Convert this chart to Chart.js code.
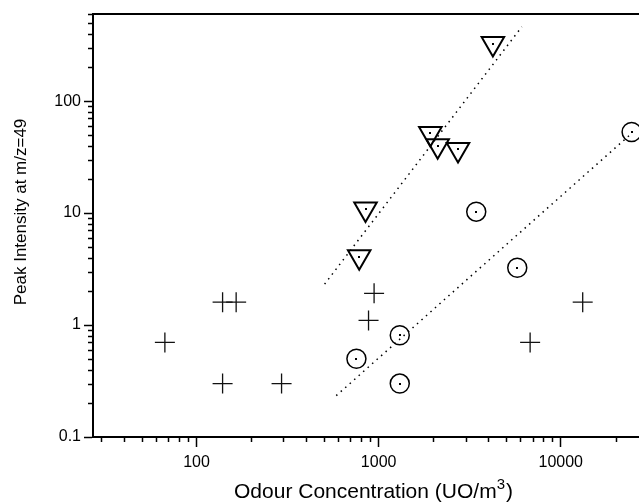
<!doctype html>
<html lang="en">
<head>
  <meta charset="utf-8">
  <title>Peak Intensity vs Odour Concentration</title>
  <style>
    body { margin: 0; background: #fff; }
    #wrap { width: 639px; height: 504px; }
  </style>
  <script src="https://cdn.jsdelivr.net/npm/chart.js"></script>
</head>
<body>
  <div id="wrap"><canvas id="myChart" width="639" height="504"></canvas></div>

  <script>
    // values
    const crossX = [67, 139, 165, 139, 293, 944, 880, 6790, 13200];
    const crossY = [0.70, 1.6, 1.6, 0.30, 0.30, 1.92, 1.1, 0.70, 1.6];

    const circleX = [755, 1306, 1306, 3435, 5770, 24500];
    const circleY = [0.50, 0.81, 0.30, 10.3, 3.25, 53];

    const triX = [782, 847, 1923, 2109, 2728, 4240];
    const triY = [4.07, 10.9, 51.5, 39.9, 37, 327];

    const fitTriX = [505, 6110];
    const fitTriY = [2.32, 461];
    const fitCircX = [585, 24000];
    const fitCircY = [0.234, 50];

    const xMajor = [100, 1000, 10000];
    const yMajor = [0.1, 1, 10, 100];
    const xRange = [27, 26900];
    const yRange = [0.1, 600];

    const FONT = '"Liberation Sans", Arial, sans-serif';

    function pts(xs, ys) {
      return xs.map((x, i) => ({ x: x, y: ys[i] }));
    }

    function minorValues(min, max) {
      const out = [];
      for (let e = Math.floor(Math.log10(min)); e <= Math.ceil(Math.log10(max)); e++) {
        for (let m = 2; m <= 9; m++) {
          const v = m * Math.pow(10, e);
          if (v >= min && v <= max) out.push(v);
        }
      }
      return out;
    }

    // minor ticks, top frame line, centre dots and axis titles
    const decorations = {
      id: 'decorations',
      afterDatasetsDraw(chart) {
        const ctx = chart.ctx;
        ctx.save();
        ctx.fillStyle = '#000';
        chart.data.datasets.forEach((ds, i) => {
          if (!ds.centerDot) return;
          chart.getDatasetMeta(i).data.forEach(el => {
            ctx.fillRect(Math.round(el.x) - 1, Math.round(el.y) - 1, 2, 2);
          });
        });
        ctx.restore();
      },
      afterDraw(chart) {
        const ctx = chart.ctx;
        const area = chart.chartArea;
        const xs = chart.scales.x;
        const ys = chart.scales.y;
        ctx.save();
        ctx.strokeStyle = '#000';
        ctx.lineWidth = 1.5;
        minorValues(xRange[0], xRange[1]).forEach(v => {
          const px = Math.round(xs.getPixelForValue(v)) + 0.5;
          ctx.beginPath();
          ctx.moveTo(px, area.bottom);
          ctx.lineTo(px, area.bottom + 5);
          ctx.stroke();
        });
        minorValues(yRange[0], yRange[1]).forEach(v => {
          const py = Math.round(ys.getPixelForValue(v)) + 0.5;
          ctx.beginPath();
          ctx.moveTo(area.left, py);
          ctx.lineTo(area.left - 5, py);
          ctx.stroke();
        });

        // top frame
        ctx.lineWidth = 2;
        ctx.beginPath();
        ctx.moveTo(area.left - 1, area.top);
        ctx.lineTo(area.right, area.top);
        ctx.stroke();

        // y title
        ctx.fillStyle = '#000';
        ctx.font = '17px ' + FONT;
        ctx.textAlign = 'center';
        ctx.textBaseline = 'middle';
        ctx.translate(21, 212);
        ctx.rotate(-Math.PI / 2);
        ctx.fillText('Peak Intensity at m/z=49', 0, 0);
        ctx.setTransform(1, 0, 0, 1, 0, 0);

        // x title with superscript
        const main = 'Odour Concentration (UO/m';
        ctx.textAlign = 'left';
        ctx.textBaseline = 'alphabetic';
        ctx.font = '21px ' + FONT;
        const w1 = ctx.measureText(main).width;
        const w3 = ctx.measureText(')').width;
        ctx.font = '15px ' + FONT;
        const w2 = ctx.measureText('3').width;
        const start = 373 - (w1 + w2 + w3) / 2;
        ctx.font = '21px ' + FONT;
        ctx.fillText(main, start, 498);
        ctx.font = '15px ' + FONT;
        ctx.fillText('3', start + w1, 489);
        ctx.font = '21px ' + FONT;
        ctx.fillText(')', start + w1 + w2 + 1, 498);
        ctx.restore();
      }
    };

    const ctx = document.getElementById('myChart');

    new Chart(ctx, {
      type: 'scatter',
      data: {
        datasets: [
          {
            label: 'Triangles',
            data: pts(triX, triY),
            pointStyle: 'triangle',
            rotation: 180,
            pointRadius: 13,
            borderColor: '#000',
            backgroundColor: 'rgba(0,0,0,0)',
            borderWidth: 2,
            centerDot: true,
            clip: false
          },
          {
            label: 'Circles',
            data: pts(circleX, circleY),
            pointStyle: 'circle',
            pointRadius: 9.5,
            borderColor: '#000',
            backgroundColor: 'rgba(0,0,0,0)',
            borderWidth: 1.5,
            centerDot: true,
            clip: false
          },
          {
            label: 'Crosses',
            data: pts(crossX, crossY),
            pointStyle: 'cross',
            pointRadius: 10,
            borderColor: '#111',
            borderWidth: 1.3
          },
          {
            label: 'Fit triangles',
            type: 'line',
            data: pts(fitTriX, fitTriY),
            borderColor: '#000',
            borderWidth: 1.5,
            borderDash: [1.5, 4.5],
            pointRadius: 0,
            fill: false
          },
          {
            label: 'Fit circles',
            type: 'line',
            data: pts(fitCircX, fitCircY),
            borderColor: '#000',
            borderWidth: 1.5,
            borderDash: [1.5, 4.5],
            pointRadius: 0,
            fill: false
          }
        ]
      },
      options: {
        responsive: false,
        animation: false,
        layout: { autoPadding: false, padding: { top: 14, left: 0, right: 0, bottom: 0 } },
        plugins: {
          legend: { display: false },
          tooltip: { enabled: false }
        },
        scales: {
          x: {
            type: 'logarithmic',
            min: xRange[0],
            max: xRange[1],
            afterBuildTicks: scale => { scale.ticks = xMajor.map(v => ({ value: v })); },
            afterFit: scale => {
              scale.height = 67;
              scale.paddingLeft = 0;
              scale.paddingRight = 0;
            },
            ticks: {
              color: '#000',
              font: { family: FONT, size: 16 },
              padding: 6,
              maxRotation: 0,
              autoSkip: false,
              callback: value => String(value)
            },
            grid: { drawOnChartArea: false, color: '#000', tickLength: 10, tickWidth: 1.5 },
            border: { color: '#000', width: 2 }
          },
          y: {
            type: 'logarithmic',
            min: yRange[0],
            max: yRange[1],
            afterBuildTicks: scale => { scale.ticks = yMajor.map(v => ({ value: v })); },
            afterFit: scale => {
              scale.width = 93;
              scale.paddingTop = 0;
              scale.paddingBottom = 0;
            },
            ticks: {
              color: '#000',
              font: { family: FONT, size: 16 },
              padding: 3,
              autoSkip: false,
              callback: value => String(value)
            },
            grid: { drawOnChartArea: false, color: '#000', tickLength: 9, tickWidth: 1.5 },
            border: { color: '#000', width: 2 }
          }
        }
      },
      plugins: [decorations]
    });
  </script>
</body>
</html>
